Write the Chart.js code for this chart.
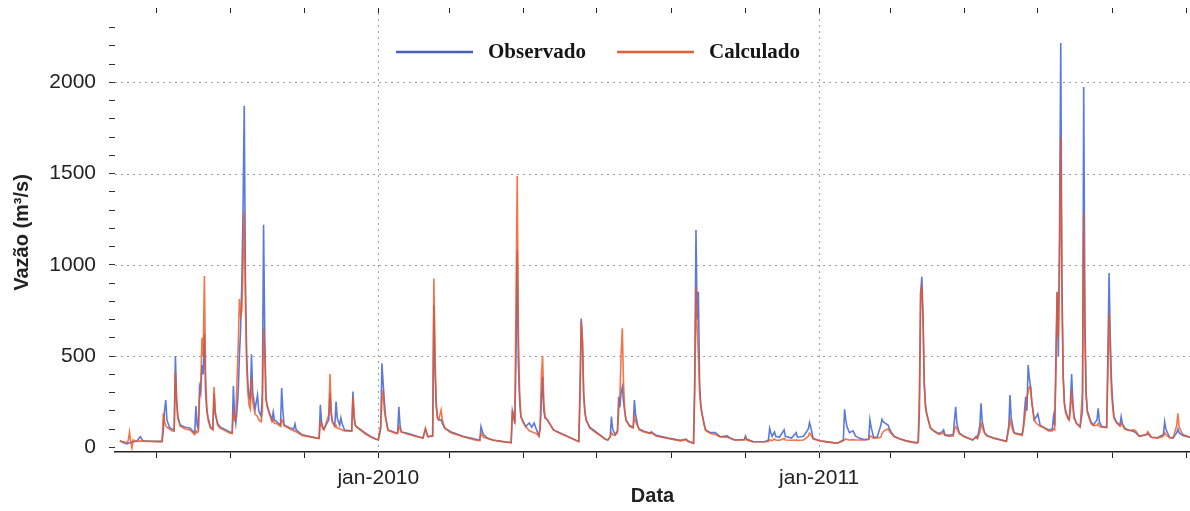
<!DOCTYPE html>
<html lang="pt">
<head>
<meta charset="utf-8">
<title>Vazão observada x calculada</title>
<script src="https://cdn.jsdelivr.net/npm/chart.js@4.4.1/dist/chart.umd.min.js"></script>
<style>
  html, body { margin: 0; padding: 0; background: #fff; }
  #wrap { width: 1190px; height: 511px; }
</style>
</head>
<body>
<div id="wrap"><canvas id="myCanvas"></canvas></div>
<script>
// dias contados a partir de 01/01/2010
const dias = [
  -214,-211,-208,-207,-206,-205,-204,-203,-200,-197,
  -195,-189,-182,-179,-178,-177,-176,-175,-173,-171,
  -169,-168,-167,-166,-164,-160,-156,-152,-151,-150,
  -149,-148,-147,-146,-145,-144,-143,-142,-141,-139,
  -137,-136,-135,-133,-131,-123,-121,-120,-119,-118,
  -117,-116,-115,-114,-113,-112,-111,-110,-109,-108,
  -107,-106,-105,-104,-102,-100,-99,-97,-96,-95,
  -94,-93,-92,-90,-88,-87,-86,-84,-81,-80,
  -79,-78,-73,-70,-69,-68,-63,-51,-49,-48,
  -47,-46,-45,-41,-40,-39,-38,-36,-35,-34,
  -32,-31,-30,-28,-22,-21,-20,-19,-18,-10,
  -6,-2,0,2,3,4,5,6,8,15,
  16,17,18,19,25,32,37,39,41,45,
  46,47,48,49,50,52,53,55,60,70,
  80,84,85,86,87,90,95,105,110,111,
  112,113,114,115,116,117,118,120,122,125,
  127,129,131,133,134,135,136,137,138,140,
  145,150,160,165,166,167,168,169,170,171,
  172,175,180,185,188,190,192,193,194,196,
  198,199,200,201,202,203,204,205,208,211,
  212,213,215,216,220,225,226,230,240,250,
  255,256,260,261,262,263,264,265,266,267,
  268,270,271,275,279,283,289,291,295,303,
  304,305,310,320,323,324,325,326,328,329,
  332,335,336,337,342,346,347,352,356,357,
  358,360,365,373,380,385,386,387,388,390,
  393,395,398,402,406,407,408,410,413,416,
  417,418,420,422,424,427,432,437,442,446,
  447,448,449,450,451,452,453,454,457,459,
  464,467,468,469,472,476,477,478,479,481,
  485,492,495,496,498,499,500,502,504,510,
  520,522,523,524,526,527,533,534,535,536,
  537,538,539,540,541,543,545,546,548,550,
  555,558,559,560,561,562,563,564,565,566,
  567,568,569,571,572,573,574,575,576,578,
  581,583,584,585,586,587,590,592,595,596,
  597,599,603,604,605,606,607,608,609,611,
  614,615,616,618,621,626,627,630,636,637,
  640,645,650,651,652,655,658,661,662,663,
  666,670,672
];

// vazão observada (m³/s)
const observado = [
  36,25,18,22,25,27,28,30,33,58,
  36,33,32,32,90,200,259,150,111,100,
  95,500,260,170,122,110,106,78,226,120,
  100,330,300,450,400,620,300,200,165,111,
  100,297,180,130,111,84,80,336,180,130,
  200,300,500,650,900,1300,1871,900,500,350,
  280,260,510,300,210,287,200,170,300,1220,
  600,270,230,187,150,193,150,139,120,325,
  200,122,106,100,128,95,68,51,50,232,
  140,110,100,150,297,180,139,120,250,160,
  120,160,130,95,90,305,160,120,113,75,
  58,45,40,100,460,350,250,168,95,78,
  80,222,120,84,75,60,51,100,58,60,
  780,400,220,160,150,150,130,105,85,60,
  45,40,113,90,70,51,40,30,26,200,
  170,130,500,1080,450,250,170,140,113,133,
  110,133,95,62,100,250,387,200,160,150,
  95,80,50,35,33,300,706,580,300,200,
  150,110,85,60,45,40,58,168,100,70,
  90,277,220,300,330,250,200,150,120,110,
  259,180,113,100,88,78,85,65,50,38,
  45,35,25,22,400,1190,700,852,350,230,
  186,120,95,80,80,58,62,52,40,42,
  62,45,31,30,40,104,80,60,84,60,
  55,85,95,60,50,80,55,60,100,135,
  110,50,36,28,22,40,208,150,113,80,
  90,62,50,42,45,150,110,55,55,120,
  153,140,130,122,90,60,45,35,28,24,
  30,200,850,934,700,350,230,186,110,95,
  75,85,95,70,65,70,150,222,130,78,
  60,40,60,50,120,241,140,80,65,50,
  33,120,286,160,90,78,70,110,200,277,
  200,451,380,332,250,150,170,183,120,113,
  95,100,168,120,500,852,500,1200,2216,900,
  400,241,200,160,150,250,401,250,170,131,
  113,200,1975,700,300,200,140,122,150,213,
  140,113,110,500,955,600,369,250,168,140,
  120,168,130,105,95,85,80,60,70,75,
  55,52,70,140,100,55,52,80,100,80,
  65,58,55
];

// vazão calculada pelo modelo (m³/s)
const calculado = [
  34,30,25,40,83,30,-4,40,32,35,
  33,32,31,31,187,140,120,110,100,90,
  88,414,250,160,115,100,95,70,90,80,
  90,260,340,600,500,938,400,220,150,105,
  95,330,200,120,105,78,75,186,150,160,
  360,550,812,720,750,1000,1290,800,450,300,
  230,210,380,250,180,170,150,140,200,650,
  500,260,220,180,140,150,130,130,115,150,
  140,118,100,90,90,85,65,50,48,139,
  120,100,95,180,401,200,139,110,120,105,
  100,100,95,90,88,277,170,120,110,70,
  55,44,42,120,250,314,200,160,92,75,
  76,113,100,84,70,58,50,105,58,65,
  925,500,240,160,150,204,150,105,80,58,
  40,36,78,65,55,50,38,28,25,204,
  160,140,800,1486,600,300,168,135,113,90,
  85,80,75,62,120,400,500,250,170,150,
  95,78,48,33,31,300,690,588,280,190,
  150,105,80,58,42,40,55,80,70,65,
  80,200,280,500,652,350,200,150,115,105,
  168,140,113,95,84,75,80,62,48,35,
  42,33,24,22,300,880,650,500,300,220,
  180,115,92,75,70,56,55,50,40,40,
  55,40,31,30,32,40,38,36,45,40,
  38,45,50,40,38,40,38,40,60,78,
  70,45,36,28,22,35,40,45,42,40,
  42,40,40,40,42,62,60,50,51,55,
  75,85,95,100,80,58,45,35,28,24,
  30,300,850,880,700,340,220,180,105,92,
  70,75,80,65,60,62,100,113,100,75,
  58,40,55,48,80,131,110,75,62,48,
  31,100,150,120,80,75,65,100,150,200,
  280,300,332,330,250,150,130,125,115,110,
  90,90,100,95,400,850,600,1000,1701,800,
  380,240,190,155,150,200,314,220,160,131,
  110,300,1283,600,280,190,130,118,120,130,
  115,110,108,400,734,500,300,220,160,135,
  115,131,120,100,92,95,90,60,70,85,
  55,50,60,80,70,52,50,120,186,110,
  70,60,55
];

// marcas do eixo x a cada 2 meses
const marcasX = ['2009-07-01', '2009-09-01', '2009-11-01', '2010-01-01', '2010-03-01',
                 '2010-05-01', '2010-07-01', '2010-09-01', '2010-11-01', '2011-01-01',
                 '2011-03-01', '2011-05-01', '2011-07-01', '2011-09-01', '2011-11-01'];
const rotulosX = ['', '', '', 'jan-2010', '', '', '', '', '', 'jan-2011', '', '', '', '', ''];
const gradeX = ['2010-01-01', '2011-01-01'];

const marcasY = [0, 100, 200, 300, 400, 500, 600, 700, 800, 900, 1000, 1100,
                 1200, 1300, 1400, 1500, 1600, 1700, 1800, 1900, 2000, 2100, 2200, 2300];
const gradeY = [500, 1000, 1500, 2000];

const base = Date.UTC(2010, 0, 1);
function diaDe(s) {
    const [a, m, d] = s.split('-').map(Number);
    return (Date.UTC(a, m - 1, d) - base) / 864e5;
}

// linhas pontilhadas da grade
const grade = {
    id: 'grade',
    beforeDatasetsDraw(chart) {
        const {ctx, chartArea: a, scales: {x, y}} = chart;
        ctx.save();
        ctx.strokeStyle = '#a0a0a0';
        ctx.lineWidth = 1;
        ctx.setLineDash([2, 4]);
        gradeY.forEach(v => {
            const py = Math.round(y.getPixelForValue(v)) + 0.5;
            ctx.beginPath(); ctx.moveTo(a.left, py); ctx.lineTo(a.right, py); ctx.stroke();
        });
        gradeX.forEach(s => {
            const px = Math.round(x.getPixelForValue(diaDe(s))) + 0.5;
            ctx.beginPath(); ctx.moveTo(px, a.top); ctx.lineTo(px, a.bottom); ctx.stroke();
        });
        ctx.restore();
    }
};

// legenda dentro da área do gráfico
const legenda = {
    id: 'legenda',
    afterDraw(chart) {
        const {ctx, chartArea: a} = chart;
        ctx.save();
        ctx.font = 'bold 21px "Liberation Serif"';
        ctx.textBaseline = 'middle';
        let x = a.left + 281;
        const y = a.top + 39;
        chart.data.datasets.forEach(ds => {
            ctx.strokeStyle = ds.legendColor;
            ctx.lineWidth = 2.5;
            ctx.beginPath(); ctx.moveTo(x, y); ctx.lineTo(x + 77, y); ctx.stroke();
            ctx.fillStyle = '#151515';
            ctx.fillText(ds.label, x + 92, y + 1);
            x += 92 + ctx.measureText(ds.label).width + 31;
        });
        ctx.restore();
    }
};

document.addEventListener('DOMContentLoaded', () => {
    const ctx = document.getElementById('myCanvas').getContext('2d');
    Chart.defaults.font.family = '"Liberation Sans", Arial, sans-serif';

    const ticksX = s => { s.ticks = marcasX.map(d => ({ value: diaDe(d) })); };

    const config = {
        type: 'line',
        data: {
            datasets: [{
                label: 'Observado',
                data: dias.map((d, i) => ({ x: d, y: observado[i] })),
                borderColor: 'rgba(74,108,218,0.9)',
                legendColor: '#4a5fb8',
                borderWidth: 1.6,
                pointRadius: 0,
                tension: 0,
                order: 1
            }, {
                label: 'Calculado',
                data: dias.map((d, i) => ({ x: d, y: calculado[i] })),
                borderColor: 'rgba(240,84,28,0.8)',
                legendColor: '#e0603a',
                borderWidth: 1.6,
                pointRadius: 0,
                tension: 0,
                order: 0
            }]
        },
        options: {
            responsive: true,
            maintainAspectRatio: false,
            animation: false,
            events: [],
            layout: { padding: 0 },
            plugins: { legend: { display: false }, tooltip: { enabled: false } },
            scales: {
                x: {
                    type: 'linear',
                    min: -218,
                    max: 672,
                    afterBuildTicks: ticksX,
                    afterFit: s => { s.height = 59; s.paddingLeft = 0; s.paddingRight = 0; },
                    ticks: {
                        autoSkip: false,
                        maxRotation: 0,
                        padding: 8,
                        color: '#222',
                        font: { size: 21 },
                        callback: (v, i) => rotulosX[i]
                    },
                    grid: { drawOnChartArea: false, tickLength: 6, tickColor: '#222' },
                    border: { display: true, color: '#222', width: 1.5 },
                    title: {
                        display: true,
                        text: 'Data',
                        color: '#222',
                        font: { size: 20, weight: 'bold' },
                        padding: { top: 0, bottom: 3 }
                    }
                },
                x2: {
                    type: 'linear',
                    position: 'top',
                    min: -218,
                    max: 672,
                    afterBuildTicks: ticksX,
                    afterFit: s => { s.height = 13; s.paddingLeft = 0; s.paddingRight = 0; },
                    ticks: { display: false },
                    grid: { drawOnChartArea: false, tickLength: 5, tickColor: '#222' },
                    border: { display: false }
                },
                y: {
                    min: -26,
                    max: 2380,
                    afterBuildTicks: s => { s.ticks = marcasY.map(v => ({ value: v })); },
                    afterFit: s => { s.width = 115; s.paddingTop = 0; s.paddingBottom = 0; },
                    ticks: {
                        autoSkip: false,
                        padding: 13,
                        color: '#222',
                        font: { size: 21 },
                        callback: v => (v % 500 === 0 ? v : '')
                    },
                    grid: { drawOnChartArea: false, tickLength: 6, tickColor: '#333' },
                    border: { display: false },
                    title: {
                        display: true,
                        text: 'Vazão (m³/s)',
                        color: '#222',
                        font: { size: 20, weight: 'bold' },
                        padding: { top: 10, bottom: 0 }
                    }
                }
            }
        },
        plugins: [grade, legenda]
    };

    const myChart = new Chart(ctx, config);
});
</script>
</body>
</html>
